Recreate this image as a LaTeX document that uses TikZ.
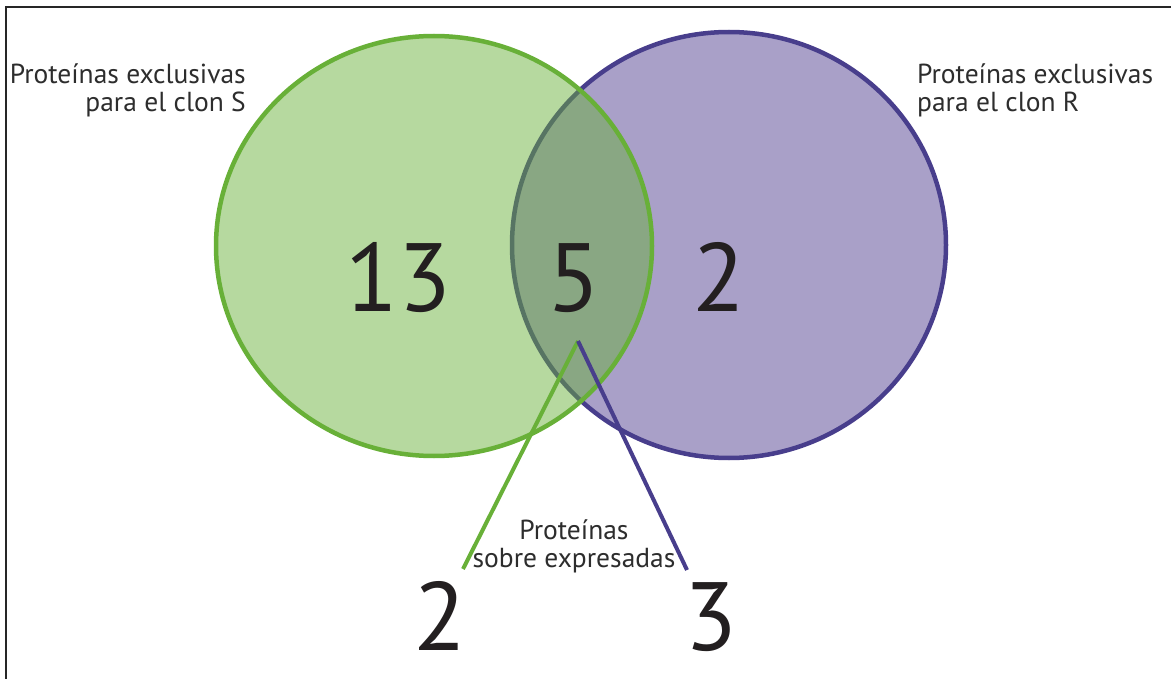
\documentclass[tikz,border=0pt]{standalone}
\usepackage{fontspec}
\setmainfont{PT Sans}
\definecolor{sgreen}{RGB}{104,176,56}
\definecolor{rpurple}{RGB}{72,62,140}
\definecolor{rfill}{RGB}{169,160,200}
\definecolor{ink}{RGB}{35,31,32}
\definecolor{note}{RGB}{45,45,45}
\tikzset{
  setS/.style={draw=sgreen, line width=4.5pt, fill=sgreen, fill opacity=0.48, draw opacity=1},
  setR/.style={draw=rpurple, line width=4.5pt, fill=rfill},
  count/.style={inner sep=0pt, text=ink, font=\fontsize{97}{97}\selectfont},
  label/.style={inner sep=0pt, text=note, font=\fontsize{27.5}{28}\selectfont},
  leader/.style={line width=4pt}
}
\begin{document}
\begin{tikzpicture}[x=1pt,y=-1pt]
\useasboundingbox (0,0) rectangle (1171,679);
\fill[white] (0,0) rectangle (1171,679);
% frame
\draw[line width=2pt, black!85] (6,679) -- (6,7) -- (1171,7);

% the two sets
\path[setR] (729,245) ellipse [x radius=217, y radius=213];
\path[setS] (434,246) ellipse [x radius=218, y radius=210];

% counts inside the sets
\node[count, anchor=base] (cS) at (398,312) {13};
\node[count, anchor=base] (cSR) at (574,312) {5};
\node[count, anchor=base] (cR) at (719,312) {2};

% set labels
\node[label, align=right, anchor=base east] (lS) at (246,112) {Proteínas exclusivas\\para el clon S};
\node[label, align=left, anchor=base west] (lR) at (917,112) {Proteínas exclusivas\\para el clon R};

% over-expressed proteins
\coordinate (hub) at (578,341);
\node[label, align=center, anchor=base] (lOver) at (574,567) {Proteínas\\sobre expresadas};
\coordinate (endS) at (463,569);
\coordinate (endR) at (687,570);
\draw[leader, sgreen] (hub) -- (endS);
\draw[leader, rpurple] (hub) -- (endR);
\node[count, anchor=base] (oS) at (440,650) {2};
\node[count, anchor=base] (oR) at (711,650) {3};
\end{tikzpicture}
\end{document}
